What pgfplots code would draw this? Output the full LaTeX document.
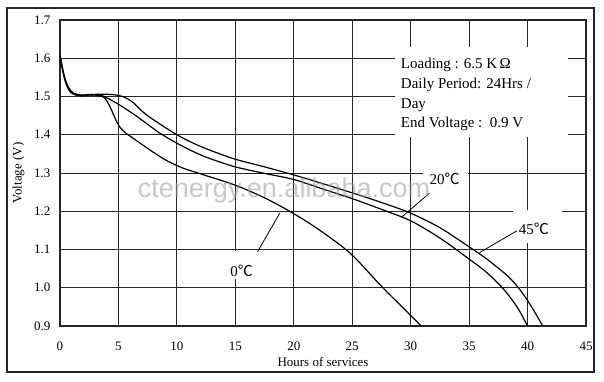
\documentclass[border=0pt]{standalone}
\usepackage{pgfplots}
\pgfplotsset{compat=1.18}
\usepackage{fontspec}
\setmainfont{Liberation Serif}
\newfontfamily\cjk{Noto Sans CJK SC}
\newfontfamily\wmfont{Liberation Sans}
\begin{document}
\begin{tikzpicture}
\useasboundingbox (0,0) rectangle (604bp,382bp);
\draw[line width=1.3bp, black!85] (7bp,10bp) rectangle (594bp,374bp);
\begin{axis}[
  at={(60bp,56bp)}, anchor=south west, scale only axis,
  width=526bp, height=306bp,
  xmin=0, xmax=45, ymin=0.9, ymax=1.7,
  xtick={0,5,10,15,20,25,30,35,40,45},
  ytick={0.9,1.0,1.1,1.2,1.3,1.4,1.5,1.6,1.7},
  grid=major, major grid style={black!85, line width=0.8bp},
  major tick length=0pt,
  axis line style={line width=1.3bp, black!85},
  /pgf/number format/assume math mode=true,
  tick label style={font=\fontsize{13bp}{15bp}\selectfont},
  yticklabel style={/pgf/number format/fixed, /pgf/number format/fixed zerofill, /pgf/number format/precision=1, xshift=-6bp},
  xticklabel style={yshift=-12bp},
  xlabel={Hours of services}, ylabel={Voltage (V)},
  label style={font=\fontsize{13bp}{15bp}\selectfont},
  xlabel style={at={(axis description cs:0.5,0)}, anchor=base, yshift=-40bp},
  ylabel style={at={(axis description cs:-0.079,0.5)}, anchor=center},
]
\fill[white] (axis cs:28.66,1.394) rectangle (axis cs:43.46,1.629);
\fill[white] (axis cs:31.05,1.256) rectangle (axis cs:34.9,1.318);
\fill[white] (axis cs:38.75,1.117) rectangle (axis cs:42.94,1.2033);
\fill[white] (axis cs:13.86,1.023) rectangle (axis cs:17.28,1.096);

% 0 C
\addplot[black, line width=1.2bp, smooth, tension=0.5] coordinates {
(0,1.607)(0.25,1.565)(0.5,1.535)(0.8,1.515)(1.2,1.505)(1.8,1.502)(2.5,1.504)(3.2,1.503)(3.8,1.497)(4.2,1.478)(4.5,1.458)(4.85,1.434)(5.1,1.421)(5.6,1.405)(6.3,1.39)(7.7,1.36)(9.1,1.333)(10.5,1.313)(12,1.298)(15,1.268)(17.5,1.235)(19.7,1.199)(22,1.155)(24.8,1.091)(27.4,1.007)(29.1,0.955)(30.9,0.9)
};
% 20 C
\addplot[black, line width=1.2bp, smooth, tension=0.5] coordinates {
(0,1.607)(0.25,1.565)(0.5,1.537)(0.8,1.517)(1.2,1.507)(1.8,1.503)(2.5,1.504)(3.3,1.504)(3.8,1.5)(4.4,1.49)(5.1,1.478)(6,1.46)(6.8,1.443)(8.55,1.404)(10,1.378)(11.4,1.356)(12.8,1.338)(15,1.316)(17.5,1.299)(20,1.283)(22.5,1.258)(25,1.233)(27.5,1.205)(30,1.175)(32.5,1.13)(35,1.075)(36.5,1.04)(37.9,0.998)(39.1,0.95)(40,0.9)
};
% 45 C
\addplot[black, line width=1.2bp, smooth, tension=0.5] coordinates {
(0,1.607)(0.25,1.57)(0.5,1.54)(0.8,1.52)(1.2,1.508)(1.8,1.504)(2.5,1.505)(3.5,1.506)(4.5,1.505)(5.1,1.502)(5.6,1.497)(6.27,1.484)(6.8,1.468)(7.4,1.452)(8.55,1.428)(10,1.40)(11.4,1.378)(12.8,1.36)(15,1.336)(17.5,1.316)(20,1.295)(22.5,1.272)(25,1.248)(27.5,1.223)(30,1.195)(32.5,1.157)(35,1.107)(36.3,1.08)(37.35,1.055)(38.4,1.028)(39.35,0.995)(40.35,0.95)(41.3,0.9)
};

\draw[black, line width=0.8bp] (axis cs:31.6,1.247) -- (axis cs:29.2,1.184);
\draw[black, line width=0.8bp] (axis cs:39.1,1.149) -- (axis cs:35.9,1.092);
\draw[black, line width=0.8bp] (axis cs:16.9,1.094) -- (axis cs:18.8,1.195);

\node[anchor=base, inner sep=0, font=\fontsize{15bp}{18bp}\selectfont] at (axis cs:32.9,1.269) {20{\cjk ℃}};
\node[anchor=base, inner sep=0, font=\fontsize{15bp}{18bp}\selectfont] at (axis cs:40.53,1.138) {45{\cjk ℃}};
\node[anchor=base, inner sep=0, font=\fontsize{15bp}{18bp}\selectfont] at (axis cs:15.53,1.029) {0{\cjk ℃}};

\node[anchor=base west, inner sep=0, font=\fontsize{15bp}{18bp}\selectfont] at (axis cs:29.15,1.573) {Loading : 6.5 K\,Ω};
\node[anchor=base west, inner sep=0, font=\fontsize{15bp}{18bp}\selectfont] at (axis cs:29.15,1.521) {Daily Period: 24Hrs /};
\node[anchor=base west, inner sep=0, font=\fontsize{15bp}{18bp}\selectfont] at (axis cs:29.15,1.469) {Day};
\node[anchor=base west, inner sep=0, font=\fontsize{15bp}{18bp}\selectfont] at (axis cs:29.15,1.419) {End Voltage :\ \ 0.9 V};
\end{axis}
\node[anchor=base, inner sep=0, text=black!40, opacity=0.55, font=\wmfont\fontsize{27bp}{30bp}\selectfont] at (284bp,184bp) {ctenergy.en.alibaba.com};
\end{tikzpicture}
\end{document}
